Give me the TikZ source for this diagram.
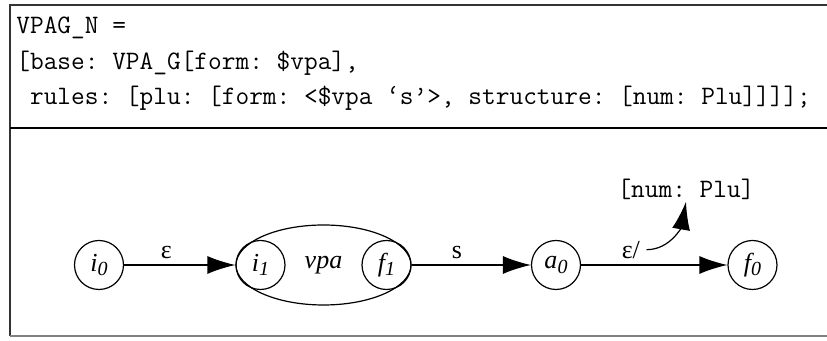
\documentclass[tikz,border=0pt]{standalone}
\usepackage{fontspec}
\setmainfont{Liberation Serif}
\usetikzlibrary{shapes.geometric, arrows.meta, positioning}
\newcommand{\stsub}[1]{\raisebox{-0.35ex}{\fontsize{10}{10}\selectfont #1}}
\frenchspacing
\tikzset{
    % States of the net
    state/.style={
        circle,
        draw,
        line width=0.6pt,
        minimum size=24.5pt,
        inner sep=0pt,
        font=\fontsize{13}{15}\selectfont\itshape
    },
    subnet/.style={
        ellipse,
        draw,
        line width=0.6pt,
        minimum width=87.5pt,
        minimum height=40pt,
        font=\fontsize{13}{15}\selectfont\itshape
    },
    code/.style={
        font=\ttfamily\fontsize{13.3}{15}\selectfont
    },
    code line/.style={
        code,
        anchor=base west,
        inner sep=0pt
    },
    trans label/.style={
        above,
        inner sep=3pt,
        font=\fontsize{13}{15}\selectfont
    },
    arrow style/.style={
        -{Latex[length=14pt,width=9pt]},
        line width=0.6pt
    }
}
\begin{document}
\begin{tikzpicture}[x=0.5pt, y=-0.5pt]
        \useasboundingbox (0,0) rectangle (827,341);
        \clip (0,0) rectangle (827,341);

        % Frame
        \draw[black!80, line width=0.7pt] (827,5) -- (10,5) -- (10,336);
        \draw[line width=0.7pt] (10,128) -- (827,128);
        \draw[gray, line width=0.7pt] (10,336) -- (827,336);

        % Definition
        \node[code line] (l1) at (16,34) {VPAG\_N =};
        \node[code line] (l2) at (16,70) {[base: VPA\_G[form: \$vpa],};
        \node[code line] (l3) at (16,105) {\ rules: [plu: [form: <\$vpa ‘s’>, structure: [num: Plu]]]];};

        % Net
        \node[state] (i0) at (99,265) {i\stsub{0}};
        \node[subnet] (vpa) at (323.5,265) {vpa};
        \node[state, anchor=west] (i1) at (vpa.west) {i\stsub{1}};
        \node[state, anchor=east] (f1) at (vpa.east) {f\stsub{1}};
        \node[state] (a0) at (556,265) {a\stsub{0}};
        \node[state] (f0) at (752.5,265) {f\stsub{0}};

        % Transitions
        \draw[arrow style] (i0) -- node[trans label, pos=0.38] {ε} (i1);
        \draw[arrow style] (f1) -- node[trans label, pos=0.38] {s} (a0);
        \draw[arrow style] (a0) -- node[trans label, pos=0.34] (eps) {ε/} (f0);

        % Output structure
        \node[code, inner sep=1pt] (num) at (686,189) {[num: Plu]};
        \draw[arrow style] (eps.east) to[out=0, in=-100] (num.south);
    \end{tikzpicture}
\end{document}
